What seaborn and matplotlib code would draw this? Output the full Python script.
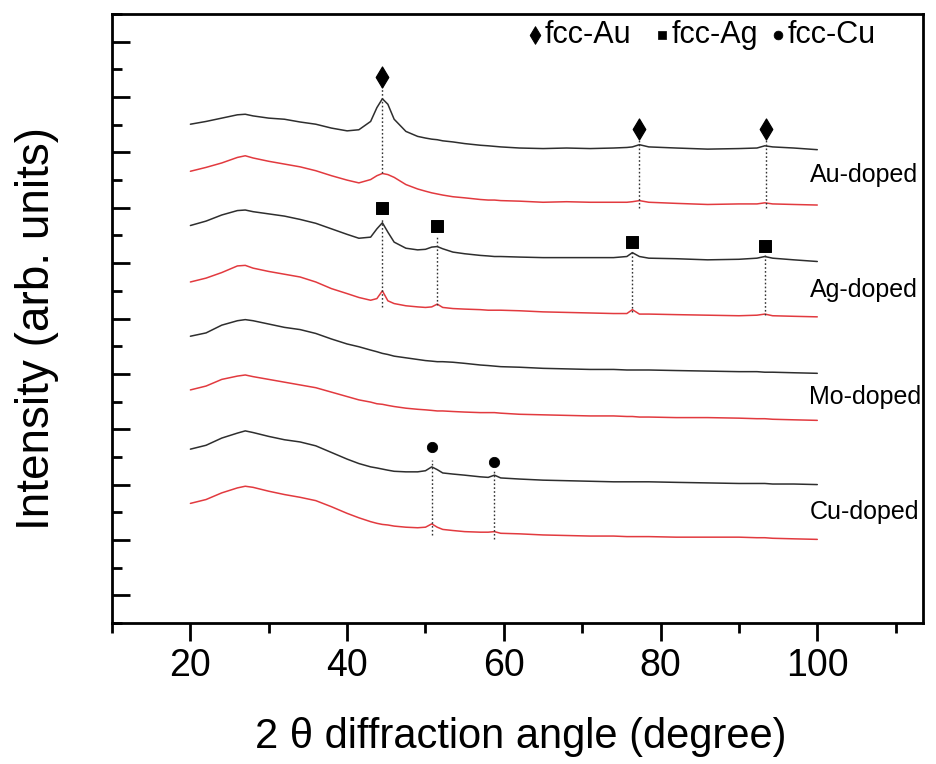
import numpy as np
import pandas as pd
import seaborn as sns
import matplotlib.pyplot as plt
from matplotlib.ticker import MultipleLocator

# 2-theta grid shared by all patterns
two_theta = [20, 22, 24, 26, 27, 28, 30, 32, 34, 36, 38, 40, 41.5, 43, 43.8, 44.5,
             45.2, 46, 47.5, 49, 50, 50.8, 51.5, 52.2, 53.5, 55, 57, 58, 58.8, 59.6,
             62, 65, 68, 71, 74, 75.7, 76.4, 77.3, 78.5, 82, 86, 90, 92.3, 93.3,
             94.3, 97, 100]

# stacked intensities (offset, arb. units), top to bottom
au_black = [9.01, 9.06, 9.12, 9.18, 9.19, 9.16, 9.12, 9.10, 9.05, 9.01, 8.94, 8.89, 8.91,
            9.06, 9.31, 9.47, 9.37, 9.10, 8.88, 8.79, 8.76, 8.74, 8.73, 8.71, 8.69, 8.66,
            8.63, 8.62, 8.61, 8.60, 8.58, 8.57, 8.58, 8.57, 8.58, 8.59, 8.60, 8.64, 8.60,
            8.58, 8.56, 8.57, 8.58, 8.62, 8.60, 8.58, 8.55]
au_red = [8.16, 8.23, 8.31, 8.41, 8.44, 8.40, 8.34, 8.29, 8.24, 8.17, 8.08, 8.00, 7.95,
          8.01, 8.08, 8.12, 8.10, 8.05, 7.92, 7.84, 7.80, 7.77, 7.75, 7.73, 7.70, 7.68,
          7.65, 7.64, 7.64, 7.63, 7.62, 7.60, 7.61, 7.60, 7.60, 7.60, 7.61, 7.63, 7.60,
          7.58, 7.56, 7.57, 7.57, 7.59, 7.57, 7.56, 7.55]
ag_black = [7.18, 7.26, 7.37, 7.45, 7.46, 7.43, 7.39, 7.35, 7.29, 7.22, 7.12, 7.02, 6.95,
            6.97, 7.12, 7.23, 7.06, 6.88, 6.77, 6.74, 6.75, 6.79, 6.80, 6.76, 6.70, 6.67,
            6.64, 6.63, 6.62, 6.62, 6.61, 6.60, 6.60, 6.60, 6.60, 6.62, 6.69, 6.62, 6.59,
            6.58, 6.56, 6.57, 6.59, 6.62, 6.59, 6.56, 6.53]
ag_red = [6.16, 6.23, 6.33, 6.45, 6.46, 6.41, 6.35, 6.30, 6.25, 6.16, 6.04, 5.95, 5.88,
          5.83, 5.86, 6.00, 5.82, 5.77, 5.73, 5.71, 5.70, 5.71, 5.76, 5.70, 5.68, 5.67,
          5.66, 5.65, 5.65, 5.65, 5.64, 5.62, 5.61, 5.60, 5.59, 5.59, 5.66, 5.58, 5.58,
          5.57, 5.56, 5.55, 5.56, 5.58, 5.55, 5.54, 5.53]
mo_black = [5.18, 5.24, 5.38, 5.46, 5.48, 5.46, 5.40, 5.34, 5.30, 5.23, 5.13, 5.04, 4.99,
            4.93, 4.90, 4.87, 4.85, 4.82, 4.79, 4.76, 4.74, 4.73, 4.72, 4.72, 4.71, 4.69,
            4.66, 4.65, 4.64, 4.63, 4.62, 4.60, 4.59, 4.58, 4.58, 4.57, 4.57, 4.57, 4.57,
            4.56, 4.55, 4.54, 4.54, 4.53, 4.53, 4.52, 4.51]
mo_red = [4.21, 4.28, 4.40, 4.46, 4.48, 4.45, 4.40, 4.35, 4.30, 4.25, 4.17, 4.09, 4.03,
          3.99, 3.96, 3.95, 3.93, 3.91, 3.88, 3.86, 3.85, 3.84, 3.83, 3.83, 3.82, 3.81,
          3.80, 3.80, 3.80, 3.79, 3.77, 3.76, 3.75, 3.74, 3.74, 3.73, 3.73, 3.72, 3.72,
          3.71, 3.71, 3.70, 3.69, 3.69, 3.68, 3.67, 3.66]
cu_black = [3.14, 3.21, 3.34, 3.43, 3.47, 3.44, 3.37, 3.31, 3.27, 3.20, 3.08, 2.96, 2.88,
            2.82, 2.80, 2.78, 2.76, 2.74, 2.73, 2.73, 2.75, 2.82, 2.77, 2.71, 2.69, 2.67,
            2.64, 2.63, 2.67, 2.62, 2.60, 2.58, 2.57, 2.56, 2.55, 2.55, 2.55, 2.55, 2.55,
            2.54, 2.53, 2.52, 2.52, 2.52, 2.51, 2.51, 2.50]
cu_red = [2.16, 2.23, 2.35, 2.44, 2.47, 2.45, 2.38, 2.32, 2.27, 2.21, 2.10, 1.98, 1.90,
          1.83, 1.80, 1.78, 1.77, 1.75, 1.73, 1.72, 1.73, 1.79, 1.73, 1.69, 1.67, 1.65,
          1.64, 1.64, 1.65, 1.62, 1.61, 1.59, 1.58, 1.57, 1.57, 1.56, 1.56, 1.56, 1.56,
          1.55, 1.55, 1.55, 1.54, 1.54, 1.53, 1.52, 1.51]

series = [au_black, au_red, ag_black, ag_red, mo_black, mo_red, cu_black, cu_red]
series_color = ["black", "red"] * 4

sample_names = ["Au-doped", "Ag-doped", "Mo-doped", "Cu-doped"]
sample_label_y = [8.09, 6.01, 4.08, 2.00]

# reflection markers: position, marker height, dotted line top / bottom
au_pos = [44.5, 77.3, 93.4]
au_mark = [9.87, 8.92, 8.92]
au_top = [9.75, 8.77, 8.77]
au_bot = [8.12, 7.49, 7.49]
ag_pos = [44.5, 51.5, 76.4, 93.3]
ag_mark = [7.49, 7.17, 6.88, 6.81]
ag_top = [7.31, 6.99, 6.73, 6.64]
ag_bot = [5.70, 5.74, 5.61, 5.56]
cu_pos = [50.8, 58.8]
cu_mark = [3.18, 2.91]
cu_top = [2.94, 2.76]
cu_bot = [1.59, 1.52]

legend_names = ["fcc-Au", "fcc-Ag", "fcc-Cu"]
legend_x = [64.0, 80.2, 95.0]
legend_y = 10.62

sns.set_style("ticks")
plt.rcParams['font.family'] = ['Liberation Sans', 'DejaVu Sans']
plt.rcParams['text.color'] = 'black'
plt.rcParams['axes.labelcolor'] = 'black'
plt.rcParams['xtick.color'] = 'black'
plt.rcParams['ytick.color'] = 'black'

colors = {"black": "#2e2e2e", "red": "#e23a3f"}

fig = plt.figure(figsize=(9.36, 7.64), dpi=100)
ax = fig.add_axes([0.1197, 0.1846, 0.8665, 0.797])

for ys, c in zip(series, series_color):
    df = pd.DataFrame({"theta": two_theta, "I": ys})
    sns.lineplot(data=df, x="theta", y="I", ax=ax, color=colors[c], lw=1.1,
                 sort=False, estimator=None)

# dotted guide lines
for pos, top, bot in [(au_pos, au_top, au_bot), (ag_pos, ag_top, ag_bot),
                      (cu_pos, cu_top, cu_bot)]:
    ax.vlines(pos, bot, top, colors="#333333", linestyles=(0, (1.2, 1.6)), lw=1.0)

sns.scatterplot(x=au_pos, y=au_mark, marker="d", s=115, color="black",
                edgecolor="black", ax=ax, zorder=5)
sns.scatterplot(x=ag_pos, y=ag_mark, marker="s", s=75, color="black",
                edgecolor="black", ax=ax, zorder=5)
sns.scatterplot(x=cu_pos, y=cu_mark, marker="o", s=55, color="black",
                edgecolor="black", ax=ax, zorder=5)

# legend drawn as text with symbols
sns.scatterplot(x=legend_x[:1], y=[legend_y], marker="d", s=80, color="black",
                edgecolor="black", ax=ax, zorder=5)
sns.scatterplot(x=legend_x[1:2], y=[legend_y], marker="s", s=40, color="black",
                edgecolor="black", ax=ax, zorder=5)
sns.scatterplot(x=legend_x[2:], y=[legend_y], marker="o", s=40, color="black",
                edgecolor="black", ax=ax, zorder=5)
for lx, name in zip(legend_x, legend_names):
    ax.text(lx + 1.2, legend_y, name, fontsize=22, va="center", ha="left")

for name, ly in zip(sample_names, sample_label_y):
    ax.text(99.0, ly, name, fontsize=18, va="center", ha="left")

ax.set_xlim(10, 113.5)
ax.set_ylim(0, 11)
ax.xaxis.set_minor_locator(MultipleLocator(10))
ax.set_xticks([20, 40, 60, 80, 100])
ax.yaxis.set_major_locator(MultipleLocator(1, offset=0.5))
ax.yaxis.set_minor_locator(MultipleLocator(0.5))
ax.set_yticklabels([])

ax.tick_params(axis="x", which="major", direction="out", length=13, width=2,
               labelsize=27, pad=5)
ax.tick_params(axis="x", which="minor", direction="out", length=7, width=2)
ax.tick_params(axis="y", which="major", direction="in", length=13, width=2)
ax.tick_params(axis="y", which="minor", direction="in", length=7, width=2)
for sp in ax.spines.values():
    sp.set_linewidth(2)
    sp.set_color("black")

ax.set_xlabel("2 θ diffraction angle (degree)", fontsize=30)
ax.set_ylabel("Intensity (arb. units)", fontsize=33)
ax.xaxis.set_label_coords(0.504, -0.155)
ax.yaxis.set_label_coords(-0.066, 0.484)

fig.savefig("out.png", dpi=100)
